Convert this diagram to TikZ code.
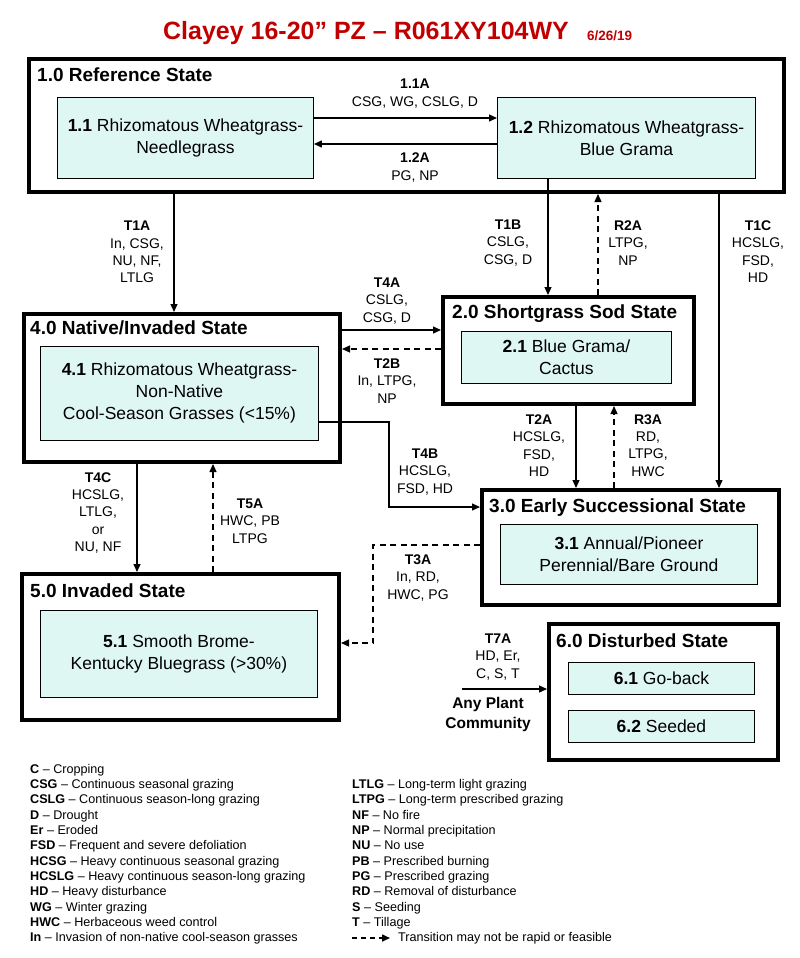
\documentclass[tikz,border=0pt]{standalone}
\usepackage{fontspec}
\setmainfont{Liberation Sans}
\usetikzlibrary{arrows.meta}
\definecolor{titlered}{HTML}{C00000}
\definecolor{boxfill}{HTML}{DFF7F3}
\begin{document}
\begin{tikzpicture}[x=1pt,y=-1pt,
  outerbox/.style={draw, line width=4pt, minimum width=#1, anchor=north west, inner sep=0pt},
  innerbox/.style={draw, line width=0.9pt, fill=boxfill, anchor=north west, align=center, inner sep=0pt,
     font=\fontsize{17.5}{22}\selectfont},
  stitle/.style={anchor=west, inner sep=0pt, font=\bfseries\fontsize{19}{22}\selectfont},
  lab/.style={align=center, inner sep=0pt, font=\fontsize{14}{17.3}\selectfont},
  arr/.style={-{Triangle[length=8pt,width=7pt]}, line width=1.2pt},
  darr/.style={arr, dash pattern=on 6pt off 4.5pt},
  legend/.style={align=left, anchor=north west, inner sep=0pt, font=\fontsize{12.6}{15.3}\selectfont}]
\useasboundingbox (0,0) rectangle (800,958);

% title
\node[text=titlered, font=\bfseries\fontsize{25}{28}\selectfont, inner sep=0pt] (title) at (366,33) {Clayey 16-20” PZ – R061XY104WY};
\node[text=titlered, font=\bfseries\fontsize{13.5}{15}\selectfont, anchor=west, inner sep=0pt] (date) at (587,36) {6/26/19};

% state 1
\node[outerbox=755pt, minimum height=133pt] (s1) at (27,57) {};
\node[stitle] (s1t) at (37,75) {1.0 Reference State};
\node[innerbox, minimum width=256pt, minimum height=81pt] (b11) at (57,97) {\textbf{1.1} Rhizomatous Wheatgrass-\\Needlegrass};
\node[innerbox, minimum width=258pt, minimum height=81pt] (b12) at (497,97) {\textbf{1.2} Rhizomatous Wheatgrass-\\Blue Grama};

% state 4
\node[outerbox=316pt, minimum height=148pt] (s4) at (22,312) {};
\node[stitle] (s4t) at (30,328) {4.0 Native/Invaded State};
\node[innerbox, minimum width=278pt, minimum height=94pt] (b41) at (40,346) {\textbf{4.1} Rhizomatous Wheatgrass-\\Non-Native\\Cool-Season Grasses (<15\%)};

% state 2
\node[outerbox=251pt, minimum height=107pt] (s2) at (441,295) {};
\node[stitle] (s2t) at (452,314) {2.0 Shortgrass Sod State};
\node[innerbox, minimum width=210pt, minimum height=52pt] (b21) at (461,331) {\textbf{2.1} Blue Grama/\\Cactus};

% state 3
\node[outerbox=297pt, minimum height=115pt] (s3) at (480,488) {};
\node[stitle] (s3t) at (489,508) {3.0 Early Successional State};
\node[innerbox, minimum width=257pt, minimum height=60pt] (b31) at (500,524) {\textbf{3.1} Annual/Pioneer\\Perennial/Bare Ground};

% state 5
\node[outerbox=317pt, minimum height=146pt] (s5) at (20,572) {};
\node[stitle] (s5t) at (30,591) {5.0 Invaded State};
\node[innerbox, minimum width=277pt, minimum height=87pt] (b51) at (40,610) {\textbf{5.1} Smooth Brome-\\Kentucky Bluegrass (>30\%)};

% state 6
\node[outerbox=229pt, minimum height=136pt] (s6) at (547,622) {};
\node[stitle] (s6t) at (556,641) {6.0 Disturbed State};
\node[innerbox, minimum width=186pt, minimum height=32pt] (b61) at (568,662) {\textbf{6.1} Go-back};
\node[innerbox, minimum width=186pt, minimum height=32pt] (b62) at (568,710) {\textbf{6.2} Seeded};

% transitions within state 1
\draw[arr] (b11.east |- 0,118) -- (b12.west |- 0,118);
\draw[arr] (b12.west |- 0,144) -- (b11.east |- 0,144);
\node[lab] (l11a) at (415,93.5) {\textbf{1.1A}\\CSG, WG, CSLG, D};
\node[lab] (l12a) at (415,167.5) {\textbf{1.2A}\\PG, NP};

% T1A
\draw[arr] (174,0 |- s1.south) -- (174,0 |- s4.north);
\node[lab] (lt1a) at (137,252) {\textbf{T1A}\\In, CSG,\\NU, NF,\\LTLG};
% T1B
\draw[arr] (548,0 |- b12.south) -- (548,0 |- s2.north);
\node[lab] (lt1b) at (508,243) {\textbf{T1B}\\CSLG,\\CSG, D};
% R2A
\draw[darr] (598,0 |- s2.north) -- (598,0 |- s1.south);
\node[lab] (lr2a) at (628,243) {\textbf{R2A}\\LTPG,\\NP};
% T1C
\draw[arr] (719,0 |- s1.south) -- (719,0 |- s3.north);
\node[lab] (lt1c) at (758,251.5) {\textbf{T1C}\\HCSLG,\\FSD,\\HD};
% T4A
\draw[arr] (s4.east |- 0,330) -- (s2.west |- 0,330);
\node[lab] (lt4a) at (387,301) {\textbf{T4A}\\CSLG,\\CSG, D};
% T2B
\draw[darr] (s2.west |- 0,349) -- (s4.east |- 0,349);
\node[lab] (lt2b) at (387,381) {\textbf{T2B}\\In, LTPG,\\NP};
% T2A
\draw[arr] (576,0 |- s2.south) -- (576,0 |- s3.north);
\node[lab] (lt2a) at (539,445.5) {\textbf{T2A}\\HCSLG,\\FSD,\\HD};
% R3A
\draw[darr] (614,0 |- s3.north) -- (614,0 |- s2.south);
\node[lab] (lr3a) at (648,445.5) {\textbf{R3A}\\RD,\\LTPG,\\HWC};
% T4B
\draw[arr] (b41.east |- 0,422) -- (389,422) |- (s3.west |- 0,507);
\node[lab] (lt4b) at (425,472) {\textbf{T4B}\\HCSLG,\\FSD, HD};
% T3A
\draw[darr] (s3.west |- 0,545) -- (373,545) |- (s5.east |- 0,643);
\node[lab] (lt3a) at (418,578) {\textbf{T3A}\\In, RD,\\HWC, PG};
% T4C
\draw[arr] (137,0 |- s4.south) -- (137,0 |- s5.north);
\node[lab] (lt4c) at (98,513) {\textbf{T4C}\\HCSLG,\\LTLG,\\or\\NU, NF};
% T5A
\draw[darr] (213,0 |- s5.north) -- (213,0 |- s4.south);
\node[lab] (lt5a) at (250,521) {\textbf{T5A}\\HWC, PB\\LTPG};
% T7A
\coordinate (apc) at (462,689);
\draw[arr] (apc) -- (s6.west |- apc);
\node[lab] (lt7a) at (498,657) {\textbf{T7A}\\HD, Er,\\C, S, T};
\node[lab, font=\bfseries\fontsize{15.5}{19.5}\selectfont] (lapc) at (488,714.5) {Any Plant\\Community};

% legend
\node[legend] (legL) at (30,764) {\textbf{C} – Cropping\\
\textbf{CSG} – Continuous seasonal grazing\\
\textbf{CSLG} – Continuous season-long grazing\\
\textbf{D} – Drought\\
\textbf{Er} – Eroded\\
\textbf{FSD} – Frequent and severe defoliation\\
\textbf{HCSG} – Heavy continuous seasonal grazing\\
\textbf{HCSLG} – Heavy continuous season-long grazing\\
\textbf{HD} – Heavy disturbance\\
\textbf{WG} – Winter grazing\\
\textbf{HWC} – Herbaceous weed control\\
\textbf{In} – Invasion of non-native cool-season grasses};
\node[legend] (legR) at (352,779.3) {\textbf{LTLG} – Long-term light grazing\\
\textbf{LTPG} – Long-term prescribed grazing\\
\textbf{NF} – No fire\\
\textbf{NP} – Normal precipitation\\
\textbf{NU} – No use\\
\textbf{PB} – Prescribed burning\\
\textbf{PG} – Prescribed grazing\\
\textbf{RD} – Removal of disturbance\\
\textbf{S} – Seeding\\
\textbf{T} – Tillage};
\coordinate (lga) at (352,938);
\coordinate (lgb) at (390,938);
\draw[darr, line width=1.5pt, dash pattern=on 5pt off 4pt] (lga) -- (lgb);
\node[anchor=west, inner sep=0pt, font=\fontsize{12.6}{15.3}\selectfont] (legT) at (398,938) {Transition may not be rapid or feasible};
\end{tikzpicture}
\end{document}
